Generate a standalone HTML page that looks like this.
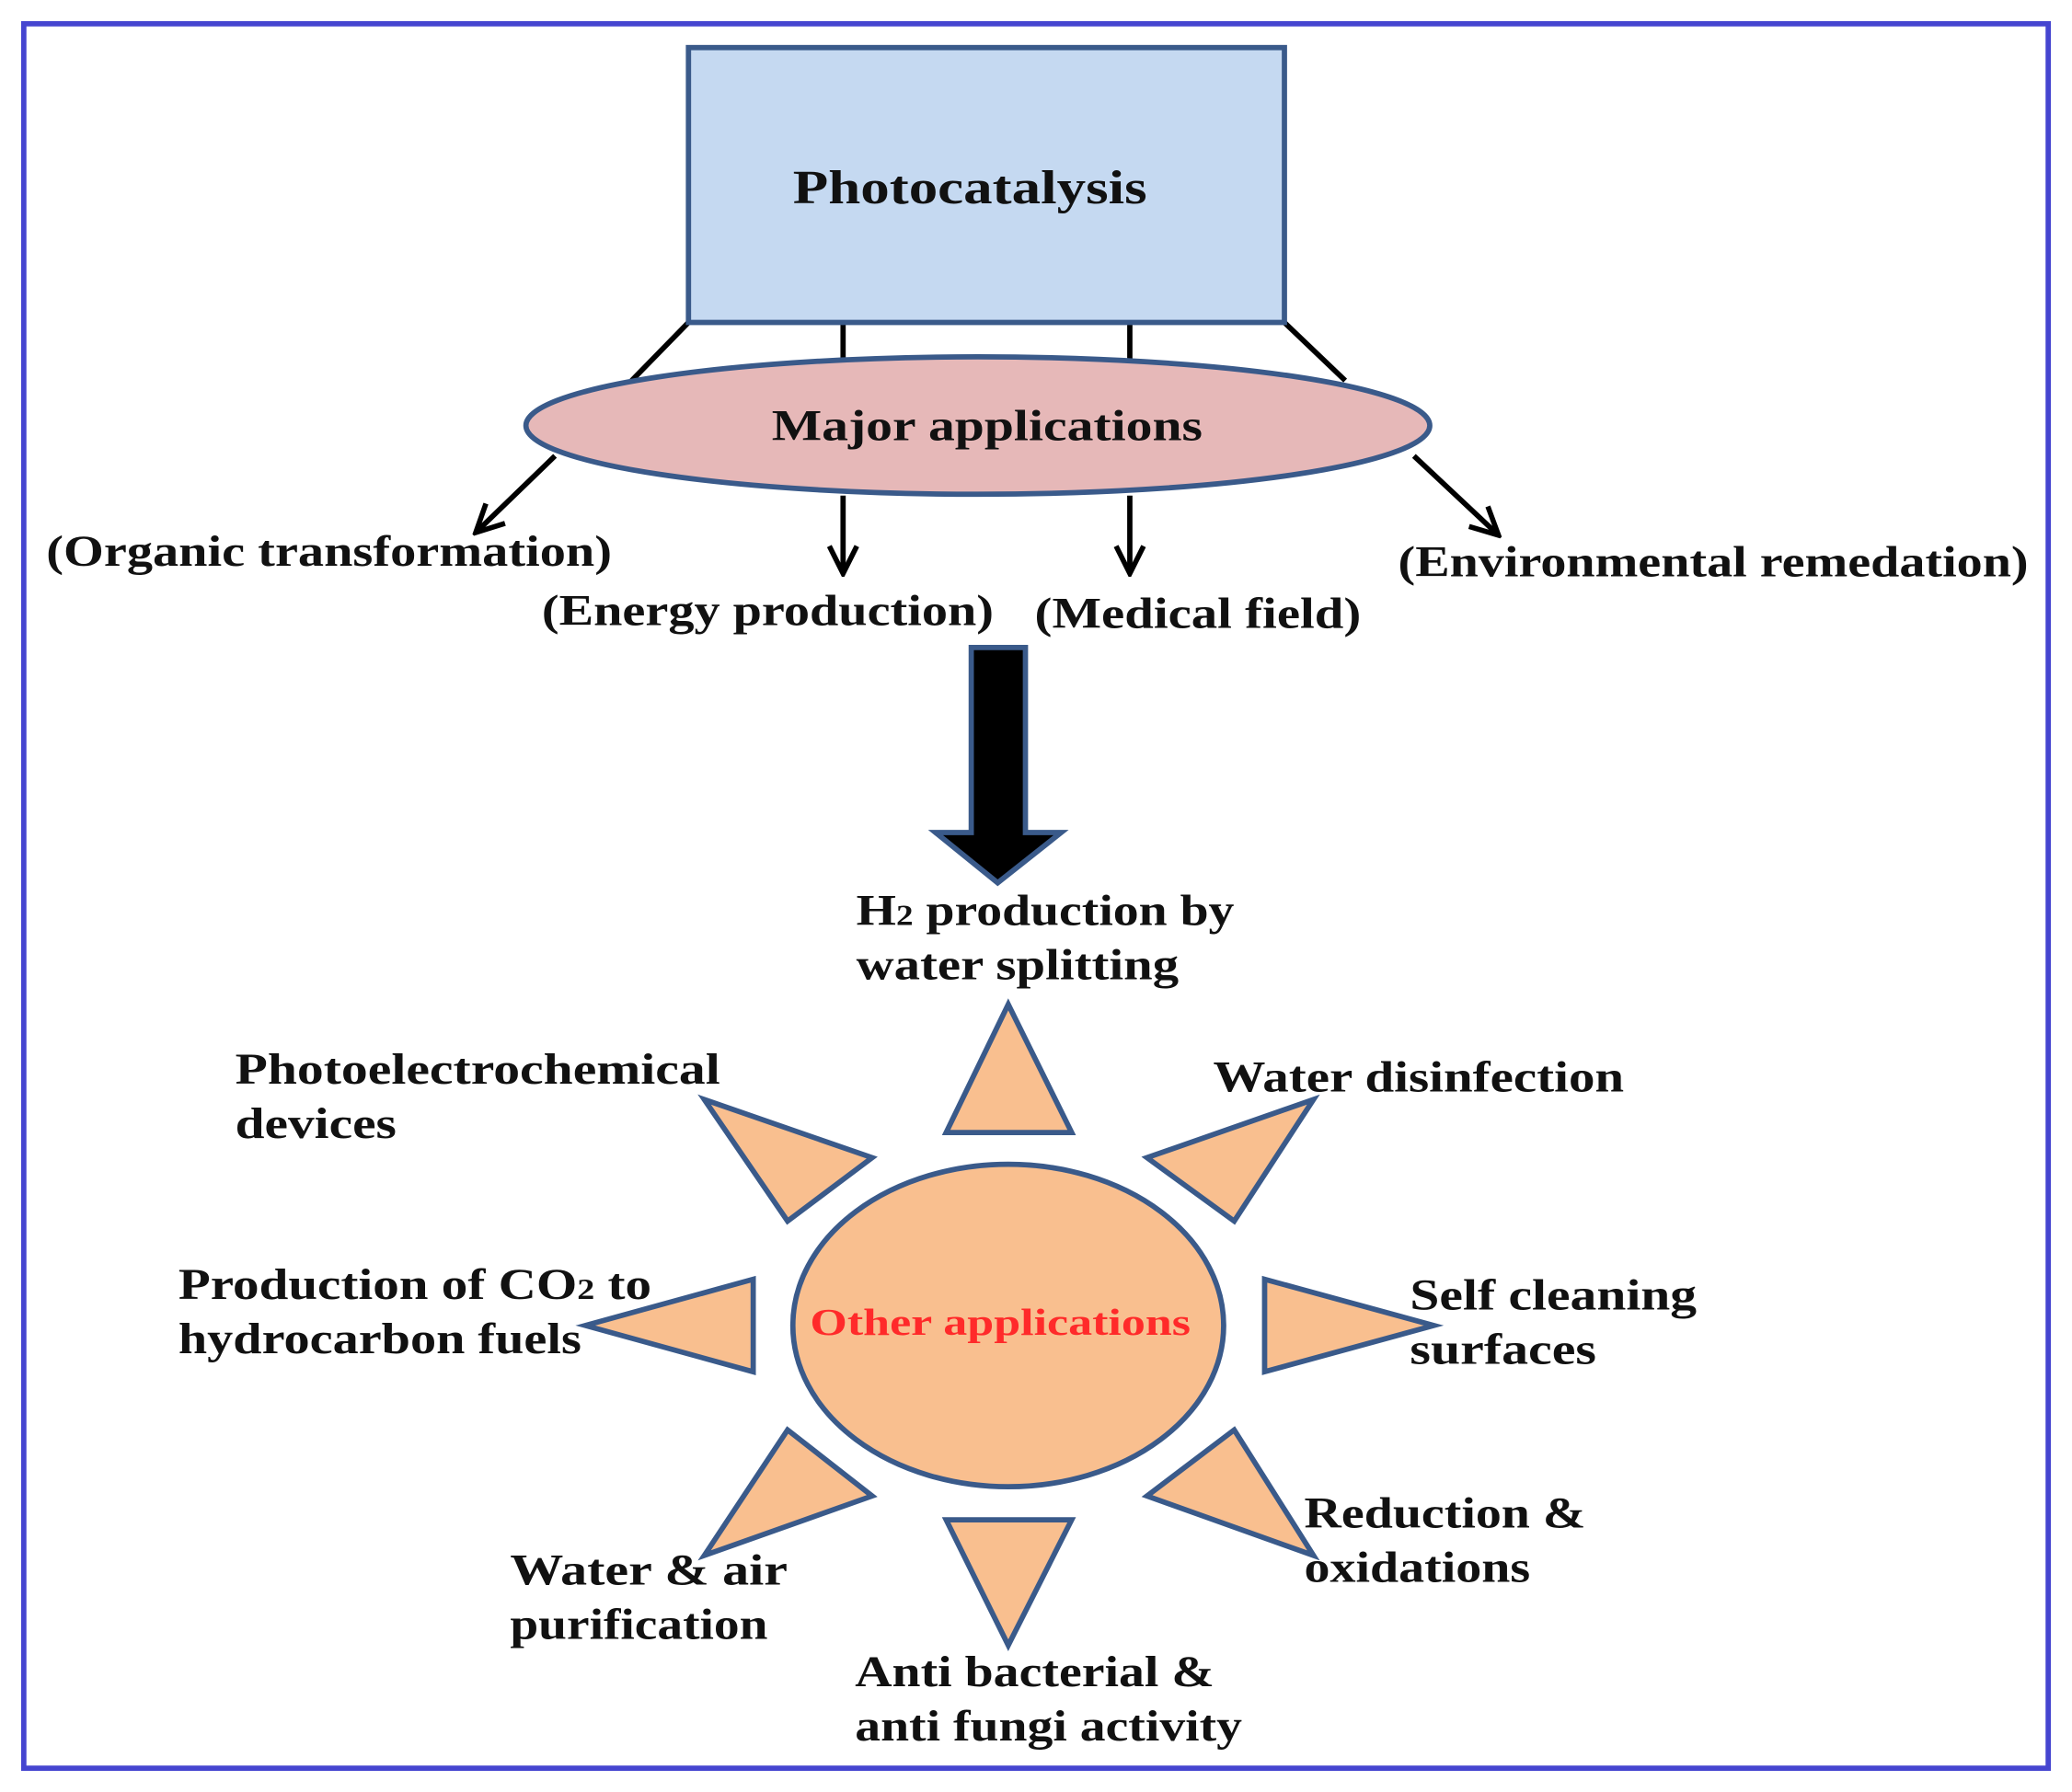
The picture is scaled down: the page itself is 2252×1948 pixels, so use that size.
<!DOCTYPE html>
<html><head><meta charset="utf-8"><style>html,body{margin:0;padding:0;background:#fff}svg{display:block}</style></head>
<body>
<svg width="2252" height="1948" viewBox="0 0 1568 1356" preserveAspectRatio="none" xmlns="http://www.w3.org/2000/svg">
<defs><marker id="ah" markerWidth="10" markerHeight="10" refX="8" refY="5" orient="auto" markerUnits="userSpaceOnUse"><path d="M0,0 L8,5 L0,10" fill="none" stroke="#000" stroke-width="4"/></marker>
<marker id="a2" viewBox="0 0 20 20" markerWidth="26" markerHeight="26" refX="18" refY="10" orient="auto" markerUnits="userSpaceOnUse"><path d="M2,2 L18,10 L2,18" fill="none" stroke="#000" stroke-width="3"/></marker></defs>
<rect width="1568" height="1356" fill="#fff"/>
<rect x="18" y="18" width="1532" height="1320" fill="none" stroke="#4545d0" stroke-width="4"/>
<g stroke="#000" stroke-width="4">
<line x1="521" y1="244" x2="478" y2="288"/><line x1="638" y1="244" x2="638" y2="272"/>
<line x1="855" y1="244" x2="855" y2="272"/><line x1="972" y1="244" x2="1018" y2="288"/>
<line x1="420" y1="345" x2="360" y2="403" marker-end="url(#a2)"/>
<line x1="638" y1="375" x2="638" y2="434" marker-end="url(#a2)"/>
<line x1="855" y1="375" x2="855" y2="434" marker-end="url(#a2)"/>
<line x1="1070" y1="345" x2="1134" y2="405" marker-end="url(#a2)"/>
</g>
<rect x="521" y="36" width="451" height="208" fill="#c5d9f1" stroke="#3a5a8a" stroke-width="4"/>
<ellipse cx="740" cy="322" rx="342" ry="52" fill="#e6b8b8" stroke="#3a5a8a" stroke-width="4"/>
<path d="M735,490 H776 V630 H803 L755,668 L708,630 H735 Z" fill="#000" stroke="#3a5a8a" stroke-width="4"/>
<g fill="#f9bf8f" stroke="#3a5a8a" stroke-width="4" stroke-linejoin="miter">
<polygon points="716,857 811,857 763,760"/><polygon points="716,1150 811,1150 763,1245"/>
<polygon points="570,968 570,1038 443,1003"/><polygon points="957,968 957,1038 1085,1003"/>
<polygon points="533,832 660,876 596,924"/><polygon points="994,832 868,876 934,924"/>
<polygon points="596,1082 660,1132 533,1177"/><polygon points="934,1082 868,1132 994,1177"/>
<ellipse cx="763" cy="1003" rx="163" ry="122"/>
</g>
<g font-family="Liberation Serif, serif" font-weight="bold" fill="#111" font-size="33">
<text x="600" y="154" font-size="36" textLength="268" lengthAdjust="spacingAndGlyphs">Photocatalysis</text>
<text x="584" y="333" textLength="326" lengthAdjust="spacingAndGlyphs">Major applications</text>
<text x="35" y="428" textLength="428" lengthAdjust="spacingAndGlyphs">(Organic transformation)</text>
<text x="410" y="473" textLength="342" lengthAdjust="spacingAndGlyphs">(Energy production)</text>
<text x="783" y="475" textLength="247" lengthAdjust="spacingAndGlyphs">(Medical field)</text>
<text x="1058" y="436" textLength="477" lengthAdjust="spacingAndGlyphs">(Environmental remedation)</text>
<text x="648" y="700" textLength="286" lengthAdjust="spacingAndGlyphs">H<tspan font-size="22">2</tspan> production by</text>
<text x="648" y="741" textLength="244" lengthAdjust="spacingAndGlyphs">water splitting</text>
<text x="178" y="820" textLength="367" lengthAdjust="spacingAndGlyphs">Photoelectrochemical</text>
<text x="178" y="861" textLength="122" lengthAdjust="spacingAndGlyphs">devices</text>
<text x="918" y="826" textLength="311" lengthAdjust="spacingAndGlyphs">Water disinfection</text>
<text x="135" y="983" textLength="358" lengthAdjust="spacingAndGlyphs">Production of CO<tspan font-size="22">2</tspan> to</text>
<text x="135" y="1024" textLength="305" lengthAdjust="spacingAndGlyphs">hydrocarbon fuels</text>
<text x="1067" y="991" textLength="217" lengthAdjust="spacingAndGlyphs">Self cleaning</text>
<text x="1067" y="1032" textLength="141" lengthAdjust="spacingAndGlyphs">surfaces</text>
<text x="386" y="1199" textLength="210" lengthAdjust="spacingAndGlyphs">Water &amp; air</text>
<text x="386" y="1240" textLength="195" lengthAdjust="spacingAndGlyphs">purification</text>
<text x="987" y="1156" textLength="213" lengthAdjust="spacingAndGlyphs">Reduction &amp;</text>
<text x="987" y="1197" textLength="171" lengthAdjust="spacingAndGlyphs">oxidations</text>
<text x="647" y="1276" textLength="272" lengthAdjust="spacingAndGlyphs">Anti bacterial &amp;</text>
<text x="647" y="1317" textLength="293" lengthAdjust="spacingAndGlyphs">anti fungi activity</text>
<text x="613" y="1010" font-size="29" fill="#ff2a2a" textLength="288" lengthAdjust="spacingAndGlyphs">Other applications</text>
</g>
</svg>
</body></html>
